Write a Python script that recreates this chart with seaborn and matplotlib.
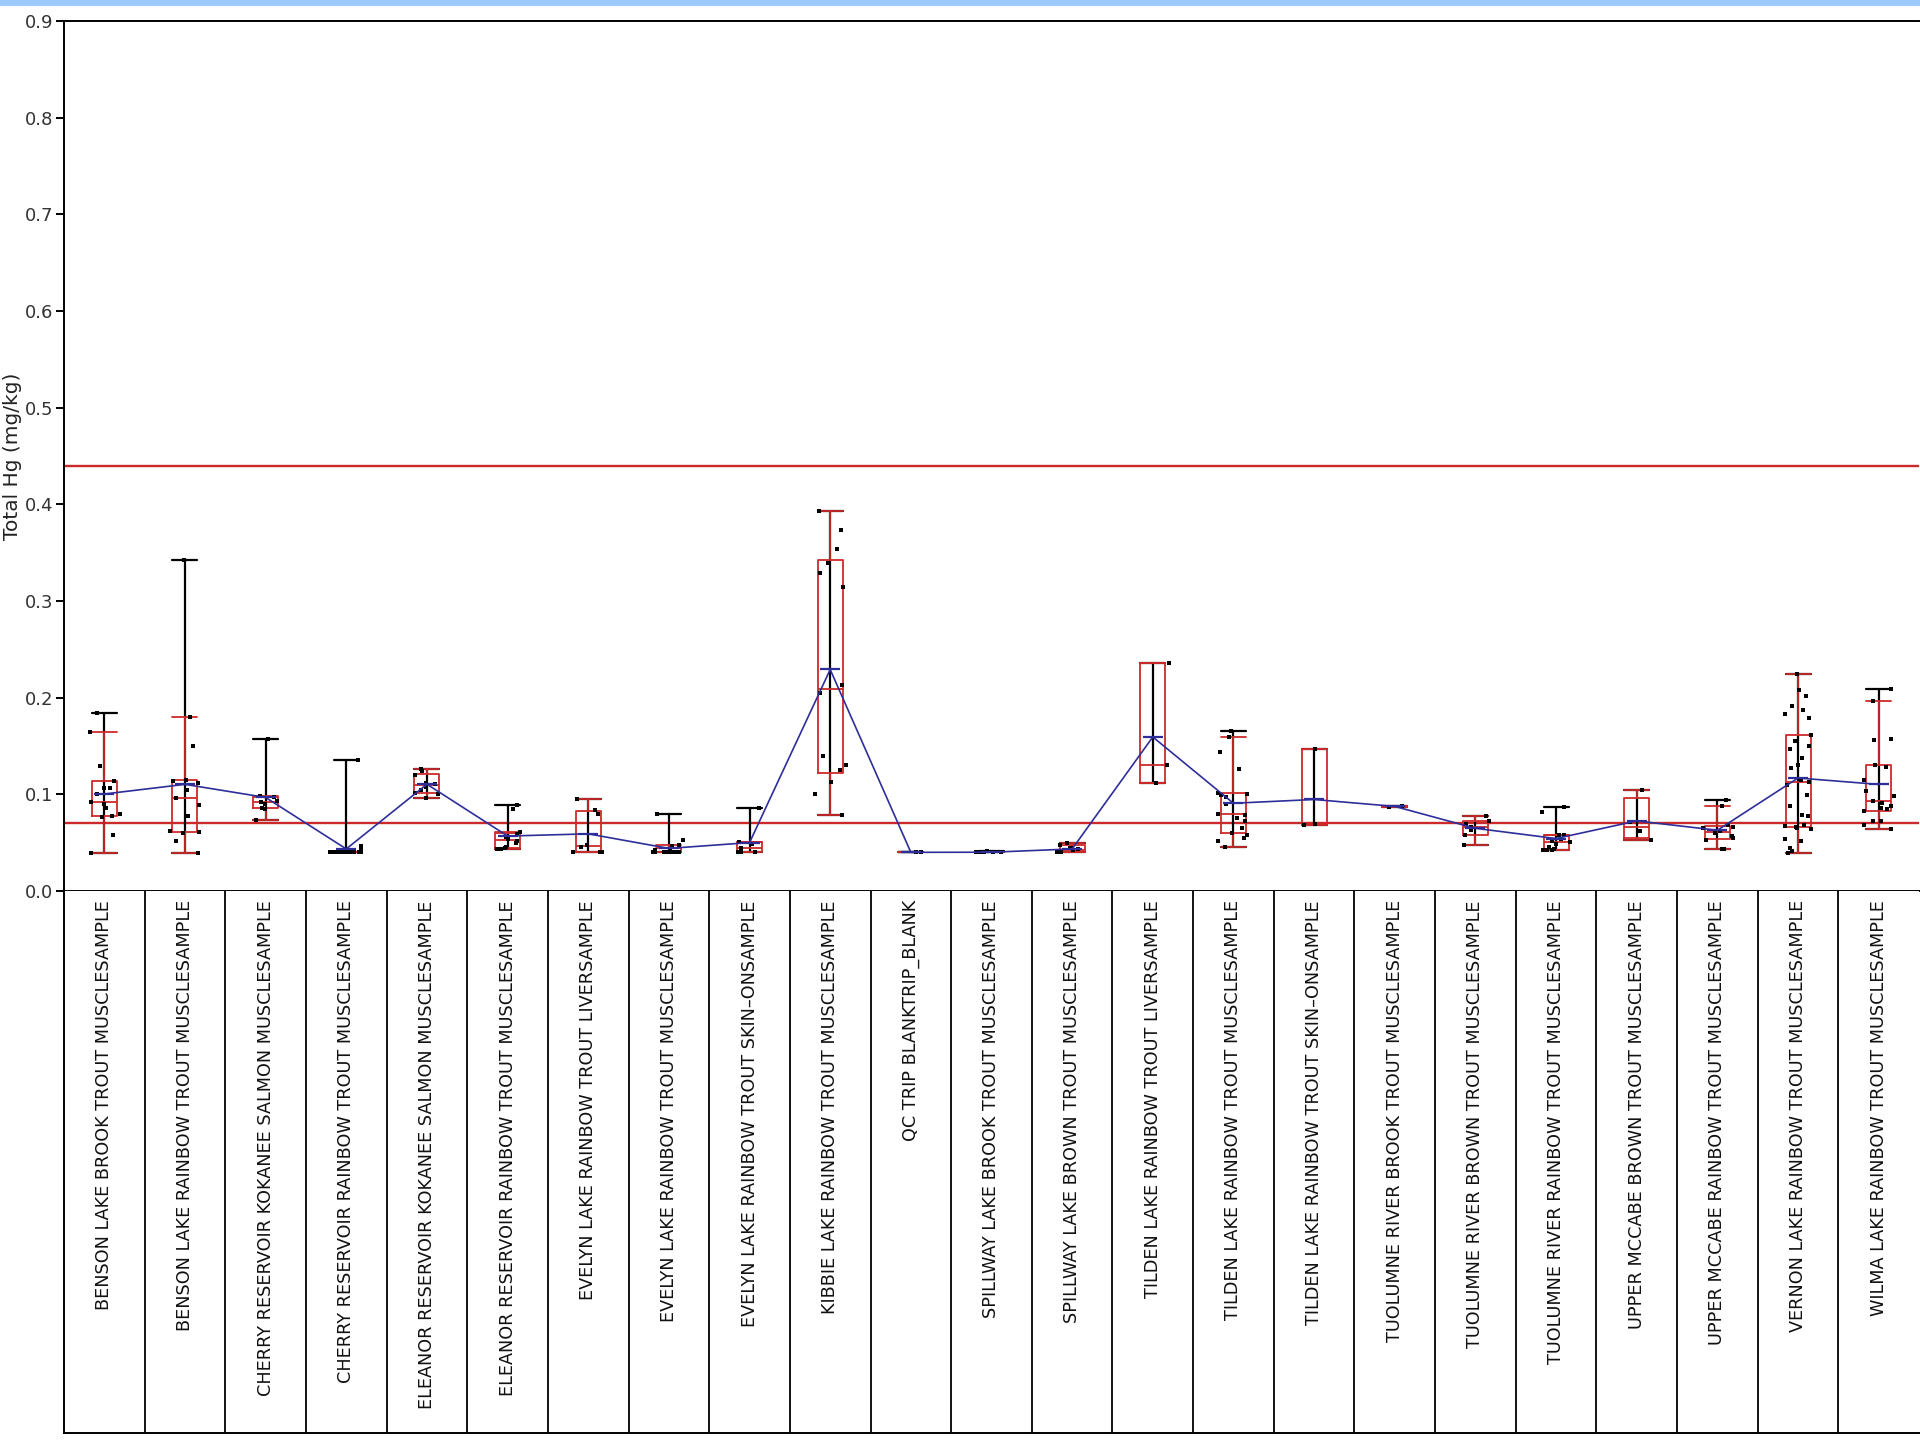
import numpy as np
import pandas as pd
import matplotlib
matplotlib.use("Agg")
import matplotlib.pyplot as plt
from matplotlib.patches import Rectangle
import seaborn as sns

# ---- sample groups (x categories) ----
categories = [
    "BENSON LAKE BROOK TROUT MUSCLESAMPLE",
    "BENSON LAKE RAINBOW TROUT MUSCLESAMPLE",
    "CHERRY RESERVOIR KOKANEE SALMON MUSCLESAMPLE",
    "CHERRY RESERVOIR RAINBOW TROUT MUSCLESAMPLE",
    "ELEANOR RESERVOIR KOKANEE SALMON MUSCLESAMPLE",
    "ELEANOR RESERVOIR RAINBOW TROUT MUSCLESAMPLE",
    "EVELYN LAKE RAINBOW TROUT LIVERSAMPLE",
    "EVELYN LAKE RAINBOW TROUT MUSCLESAMPLE",
    "EVELYN LAKE RAINBOW TROUT SKIN\u2013ONSAMPLE",
    "KIBBIE LAKE RAINBOW TROUT MUSCLESAMPLE",
    "QC TRIP BLANKTRIP_BLANK",
    "SPILLWAY LAKE BROOK TROUT MUSCLESAMPLE",
    "SPILLWAY LAKE BROWN TROUT MUSCLESAMPLE",
    "TILDEN LAKE RAINBOW TROUT LIVERSAMPLE",
    "TILDEN LAKE RAINBOW TROUT MUSCLESAMPLE",
    "TILDEN LAKE RAINBOW TROUT SKIN\u2013ONSAMPLE",
    "TUOLUMNE RIVER BROOK TROUT MUSCLESAMPLE",
    "TUOLUMNE RIVER BROWN TROUT MUSCLESAMPLE",
    "TUOLUMNE RIVER RAINBOW TROUT MUSCLESAMPLE",
    "UPPER MCCABE BROWN TROUT MUSCLESAMPLE",
    "UPPER MCCABE RAINBOW TROUT MUSCLESAMPLE",
    "VERNON LAKE RAINBOW TROUT MUSCLESAMPLE",
    "WILMA LAKE RAINBOW TROUT MUSCLESAMPLE",
]

# ---- total mercury results, mg/kg, one list per group ----
hg_benson_brook = [0.039, 0.058, 0.077, 0.078, 0.080, 0.086, 0.090, 0.092,
                   0.100, 0.107, 0.107, 0.114, 0.129, 0.164, 0.184]
hg_benson_rainbow = [0.039, 0.052, 0.060, 0.061, 0.062, 0.078, 0.089, 0.096,
                     0.105, 0.112, 0.114, 0.115, 0.150, 0.180, 0.342]
hg_cherry_kokanee = [0.073, 0.085, 0.086, 0.090, 0.092, 0.093, 0.097, 0.098, 0.157]
hg_cherry_rainbow = [0.040] * 27 + [0.043, 0.047, 0.1355]
hg_eleanor_kokanee = [0.0965, 0.100, 0.1015, 0.105, 0.108, 0.111, 0.112,
                      0.120, 0.124, 0.1265]
hg_eleanor_rainbow = [0.043, 0.043, 0.044, 0.046, 0.050, 0.052, 0.054, 0.056,
                      0.059, 0.061, 0.085, 0.089]
hg_evelyn_liver = [0.040, 0.040, 0.040, 0.046, 0.048, 0.080, 0.084, 0.095]
hg_evelyn_muscle = [0.040] * 12 + [0.042, 0.043, 0.047, 0.048, 0.053, 0.080]
hg_evelyn_skin = [0.040, 0.040, 0.040, 0.045, 0.049, 0.051, 0.0855]
hg_kibbie_rainbow = [0.079, 0.100, 0.113, 0.125, 0.130, 0.140, 0.205, 0.213,
                     0.315, 0.329, 0.339, 0.354, 0.373, 0.393]
hg_qc_blank = [0.040, 0.040]
hg_spillway_brook = [0.040] * 7 + [0.041]
hg_spillway_brown = [0.040, 0.040, 0.040, 0.042, 0.043, 0.045, 0.048, 0.050]
hg_tilden_liver = [0.112, 0.130, 0.236]
hg_tilden_muscle = [0.046, 0.052, 0.055, 0.058, 0.060, 0.065, 0.072, 0.076,
                    0.079, 0.080, 0.090, 0.097, 0.099, 0.100, 0.101, 0.126,
                    0.1435, 0.159, 0.166]
hg_tilden_skin = [0.068, 0.069, 0.147]
hg_tuolumne_brook = [0.087, 0.088]
hg_tuolumne_brown = [0.048, 0.058, 0.063, 0.066, 0.069, 0.072, 0.078]
hg_tuolumne_rainbow = [0.042, 0.042, 0.042, 0.043, 0.046, 0.049, 0.051, 0.052,
                       0.054, 0.058, 0.058, 0.0815, 0.087]
hg_mccabe_brown = [0.053, 0.062, 0.071, 0.104]
hg_mccabe_rainbow = [0.043, 0.043, 0.053, 0.055, 0.057, 0.060, 0.062, 0.065,
                     0.066, 0.068, 0.088, 0.094]
hg_vernon_rainbow = [0.039, 0.041, 0.045, 0.052, 0.054, 0.064, 0.065, 0.066,
                     0.067, 0.068, 0.0775, 0.079, 0.088, 0.099, 0.110, 0.113,
                     0.115, 0.127, 0.130, 0.138, 0.147, 0.150, 0.155, 0.161,
                     0.179, 0.183, 0.187, 0.191, 0.202, 0.208, 0.224]
hg_wilma_rainbow = [0.064, 0.068, 0.072, 0.072, 0.083, 0.085, 0.086, 0.088,
                    0.091, 0.093, 0.098, 0.103, 0.115, 0.128, 0.130, 0.156,
                    0.157, 0.197, 0.209]

groups = [
    hg_benson_brook, hg_benson_rainbow, hg_cherry_kokanee, hg_cherry_rainbow,
    hg_eleanor_kokanee, hg_eleanor_rainbow, hg_evelyn_liver, hg_evelyn_muscle,
    hg_evelyn_skin, hg_kibbie_rainbow, hg_qc_blank, hg_spillway_brook,
    hg_spillway_brown, hg_tilden_liver, hg_tilden_muscle, hg_tilden_skin,
    hg_tuolumne_brook, hg_tuolumne_brown, hg_tuolumne_rainbow,
    hg_mccabe_brown, hg_mccabe_rainbow, hg_vernon_rainbow, hg_wilma_rainbow,
]

# screening levels (mg/kg)
threshold_high = 0.44
threshold_low = 0.07

y_ticks = [0.0, 0.1, 0.2, 0.3, 0.4, 0.5, 0.6, 0.7, 0.8, 0.9]
y_tick_labels = ["0.0", "0.1", "0.2", "0.3", "0.4", "0.5", "0.6", "0.7", "0.8", "0.9"]

df = pd.DataFrame({
    "sample": np.repeat(categories, [len(g) for g in groups]),
    "hg": np.concatenate([np.asarray(g, float) for g in groups]),
})

RED = "#cc2a2a"
NAVY = "#2e2e9a"


def outlier_box_stats(values):
    """Quartiles (n+1 convention) and 1.5*IQR whiskers for one group."""
    v = np.sort(np.asarray(values, float))
    q1, med, q3 = np.quantile(v, [0.25, 0.5, 0.75], method="weibull")
    iqr = q3 - q1
    lo = v[v >= q1 - 1.5 * iqr].min()
    hi = v[v <= q3 + 1.5 * iqr].max()
    return dict(med=med, q1=q1, q3=q3, whislo=lo, whishi=hi, fliers=[])


# ---- figure layout (pixels -> figure fraction) ----
W, H = 1920, 1440
fig = plt.figure(figsize=(W / 100, H / 100), dpi=100)
sns.set_style("white")
plt.rcParams["font.family"] = ["DejaVu Sans"]

left, right = 64 / W, 1919 / W
top_px, zero_px, base_px = 21, 891, 1433
ax = fig.add_axes([left, 1 - zero_px / H, right - left, (zero_px - top_px) / H])
lab = fig.add_axes([left, 1 - base_px / H, right - left, (base_px - zero_px) / H])

# light blue band along the top edge of the window
fig.patches.append(Rectangle((0, 1 - 6 / H), 1, 6 / H, transform=fig.transFigure,
                             facecolor="#9ccaff", edgecolor="none", zorder=0))

# screening level lines
for t in (threshold_high, threshold_low):
    ax.axhline(t, color=RED, linewidth=1.7, zorder=1.5)

# range bars (min to max) for each group
sns.pointplot(data=df, x="sample", y="hg", order=categories, estimator="mean",
              errorbar=("pi", 100), capsize=0.31, color="black",
              linestyle="none", marker="", err_kws={"linewidth": 1.6},
              ax=ax)

# outlier box plots
stats = [outlier_box_stats(g) for g in groups]
red_props = dict(color=RED, linewidth=1.3)
ax.bxp(stats, positions=range(len(groups)), widths=0.31, capwidths=0.31,
       showfliers=False, boxprops=red_props, whiskerprops=red_props,
       capprops=red_props, medianprops=red_props, manage_ticks=False,
       zorder=3)

# individual results, jittered within each column
np.random.seed(7)
sns.stripplot(data=df, x="sample", y="hg", order=categories, color="black",
              marker="s", size=2.6, jitter=0.2, linewidth=0, ax=ax, zorder=4)

# connected group means
sns.pointplot(data=df, x="sample", y="hg", order=categories, estimator="mean",
              errorbar=None, color=NAVY, marker="_", markersize=14,
              markeredgewidth=1.6, linewidth=1.2, ax=ax, zorder=5)

# ---- main axes styling ----
ax.set_xlim(-0.5, len(categories) - 0.5)
ax.set_ylim(0, 0.9)
ax.set_xticks([])
ax.set_xlabel("")
ax.set_yticks(y_ticks)
ax.set_yticklabels(y_tick_labels, family=["Liberation Sans Narrow", "DejaVu Sans"])
ax.tick_params(axis="y", length=6, width=1.4, pad=2, labelsize=13,
               labelcolor="#333333", color="black", left=True)
ax.set_ylabel("Total Hg (mg/kg)", fontsize=14.5, color="#222222")
ax.yaxis.set_label_coords(-0.0225, 0.5)
for side in ("left", "top", "bottom"):
    ax.spines[side].set_color("black")
    ax.spines[side].set_linewidth(1.4)
ax.spines["right"].set_visible(False)
ax.grid(False)

# ---- category label panel ----
lab.set_xlim(ax.get_xlim())
lab.set_ylim(0, 1)
lab.set_xticks([])
lab.set_yticks([])
for side in ("left", "bottom"):
    lab.spines[side].set_color("black")
    lab.spines[side].set_linewidth(1.4)
lab.spines["top"].set_visible(False)
lab.spines["right"].set_visible(False)
for i in range(len(categories) - 1):
    lab.axvline(i + 0.5, color="black", linewidth=1.3)
for i, name in enumerate(categories):
    lab.text(i, 0.983, name, rotation=90, ha="center", va="top",
             fontsize=12.7, color="#111111")

fig.savefig("out.png", dpi=100)
